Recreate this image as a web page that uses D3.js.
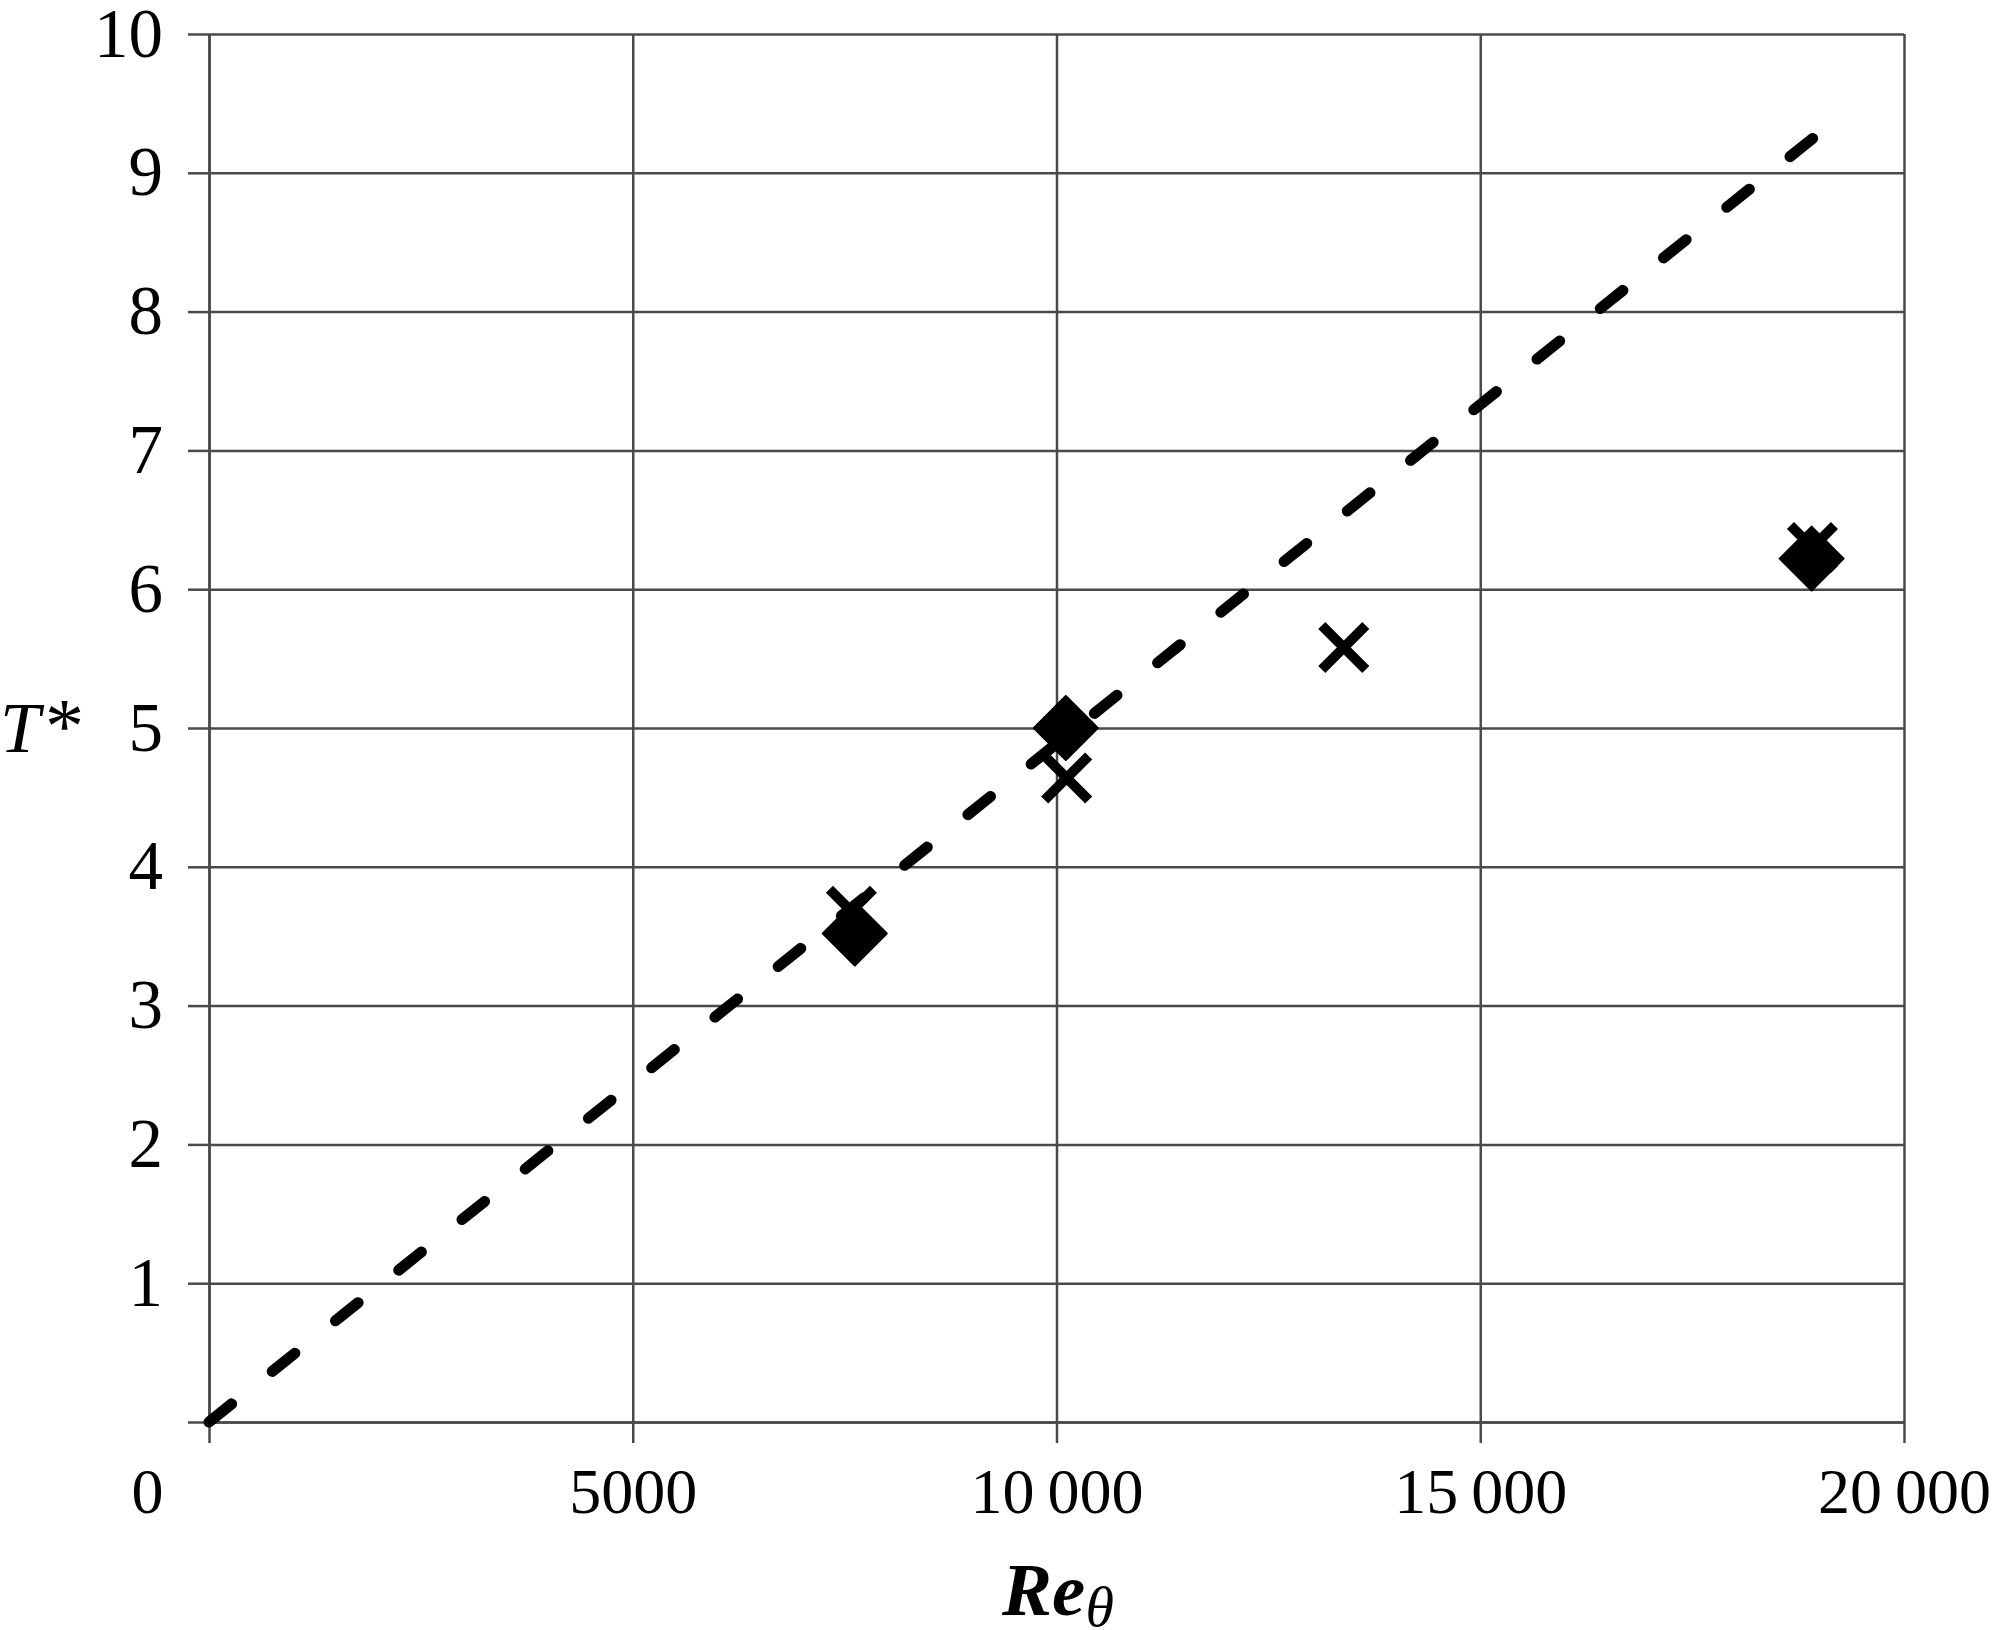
<!DOCTYPE html>
<html>
<head>
<meta charset="utf-8">
<script src="https://cdn.jsdelivr.net/npm/d3@7"></script>
<style>
  body { margin: 0; background: #fff; }
  svg text { font-family: 'Liberation Serif', 'Times New Roman', serif; fill: #000; }
</style>
</head>
<body>
<div id="chart"></div>
<script>
// data
const xTicks = [0, 5000, 10000, 15000, 20000];
const yTicks = [0, 1, 2, 3, 4, 5, 6, 7, 8, 9, 10];
const diamondRe = [7620, 10110, 18910];
const diamondT = [3.52, 5.0, 6.22];
const crossRe = [7580, 10120, 13390, 18920];
const crossT = [3.68, 4.64, 5.58, 6.30];
const fitRe = [0, 19010];
const fitT = [0, 9.29];

const W = 1992, H = 1630;
const margin = { left: 209, top: 34, right: 88, bottom: 208 };
const width = W - margin.left - margin.right;
const height = H - margin.top - margin.bottom;

const svg = d3.select('#chart').append('svg')
    .attr('width', W)
    .attr('height', H);

const g = svg.append('g')
    .attr('transform', `translate(${margin.left},${margin.top})`);

const x = d3.scaleLinear().domain([0, 20000]).range([0, width]);
const y = d3.scaleLinear().domain([0, 10]).range([height, 0]);

const gridColor = '#4a4a4a';

// grid
g.append('g')
    .attr('class', 'grid-x')
    .call(d3.axisBottom(x).tickValues(xTicks).tickSize(-height).tickFormat(''))
    .call(s => s.select('.domain').remove())
    .attr('transform', `translate(0,${height})`);
g.append('g')
    .attr('class', 'grid-y')
    .call(d3.axisLeft(y).tickValues(yTicks).tickSize(-width).tickFormat(''))
    .call(s => s.select('.domain').remove());
g.selectAll('.grid-x line, .grid-y line')
    .attr('stroke', gridColor)
    .attr('stroke-width', 2.5);

// axes with outward ticks
const fmt = d => d >= 10000 ? d3.format('d')(d).replace(/(\d{3})$/, '\u2009$1') : String(d);

const xAxis = g.append('g')
    .attr('transform', `translate(0,${height})`)
    .call(d3.axisBottom(x).tickValues(xTicks).tickSize(21).tickSizeOuter(0).tickPadding(25).tickFormat(fmt));
xAxis.selectAll('text').style('font-size', '64px');
xAxis.selectAll('.tick').filter(d => d === 0).select('text').attr('x', -62);

const yAxis = g.append('g')
    .call(d3.axisLeft(y).tickValues(yTicks).tickSize(21).tickSizeOuter(0).tickPadding(25)
        .tickFormat(d => d === 0 ? '' : String(d)));
yAxis.selectAll('text').style('font-size', '69px');

[xAxis, yAxis].forEach(a => {
    a.selectAll('line, path').attr('stroke', gridColor).attr('stroke-width', 2.5);
});

// dashed fit line
const fit = fitRe.map((d, i) => ({ re: d, t: fitT[i] }));
g.append('path')
    .datum(fit)
    .attr('d', d3.line().x(d => x(d.re)).y(d => y(d.t)))
    .attr('fill', 'none')
    .attr('stroke', '#000')
    .attr('stroke-width', 11)
    .attr('stroke-linecap', 'round')
    .attr('stroke-dasharray', '29,52');

// cross markers
const crosses = crossRe.map((d, i) => ({ re: d, t: crossT[i] }));
const cr = 22;
const crossG = g.selectAll('.cross')
    .data(crosses)
    .join('g')
    .attr('class', 'cross')
    .attr('transform', d => `translate(${x(d.re)},${y(d.t)})`);
crossG.append('path')
    .attr('d', `M${-cr},${-cr}L${cr},${cr}M${cr},${-cr}L${-cr},${cr}`)
    .attr('stroke', '#000')
    .attr('stroke-width', 10)
    .attr('fill', 'none');

// diamond markers
const diamonds = diamondRe.map((d, i) => ({ re: d, t: diamondT[i] }));
const dr = 32;
g.selectAll('.diamond')
    .data(diamonds)
    .join('path')
    .attr('class', 'diamond')
    .attr('transform', d => `translate(${x(d.re)},${y(d.t)})`)
    .attr('d', `M0,${-dr}L${dr},0L0,${dr}L${-dr},0Z`)
    .attr('fill', '#000')
    .attr('stroke', '#000')
    .attr('stroke-width', 2)
    .attr('stroke-linejoin', 'round');

// axis titles
const yTitle = svg.append('text')
    .attr('x', 0)
    .attr('y', 752)
    .style('font-size', '72px');
yTitle.append('tspan').style('font-style', 'italic').text('T');
yTitle.append('tspan').attr('dx', 5).style('font-size', '78px').text('*');

const xTitle = svg.append('text')
    .attr('x', 1058)
    .attr('y', 1615)
    .attr('text-anchor', 'middle')
    .style('font-size', '75px');
xTitle.append('tspan').style('font-style', 'italic').style('font-weight', 'bold').text('Re');
xTitle.append('tspan').style('font-style', 'italic').style('font-size', '58px').attr('dy', 11).text('θ');
</script>
</body>
</html>
